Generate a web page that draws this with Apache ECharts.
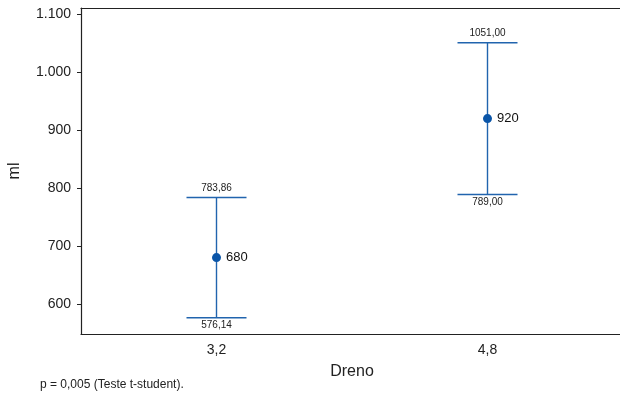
<!DOCTYPE html>
<html>
<head>
<meta charset="utf-8">
<script src="https://cdn.jsdelivr.net/npm/echarts@6/dist/echarts.min.js"></script>
<style>
  html, body { margin: 0; padding: 0; background: #fff; }
  #chart { width: 620px; height: 399px; }
</style>
</head>
<body>
<div id="chart"></div>
<script>
const categories = ["3,2", "4,8"];
const means = [680, 920];
const upper = [783.86, 1051.0];
const lower = [576.14, 789.0];
const yTicks = [600, 700, 800, 900, 1000, 1100];

const FONT = "Liberation Sans";
const BLUE = "#2164ae";
const DOT = "#0a55a8";

// 1100 -> "1.100", 783.86 -> "783,86"
function fmtThousands(v) {
  return String(v).replace(/\B(?=(\d{3})+(?!\d))/g, ".");
}
function fmtDec(v) {
  return v.toFixed(2).replace(".", ",");
}

const barData = categories.map((c, i) => [i, lower[i], upper[i]]);

const dom = document.getElementById("chart");
const myChart = echarts.init(dom, null, { renderer: "canvas" });

const option = {
  animation: false,
  textStyle: { fontFamily: FONT },
  grid: {
    left: 81,
    top: 8,
    width: 542,
    height: 326,
    show: false,
    containLabel: false,
    outerBoundsMode: "none"
  },
  title: {
    text: "p = 0,005 (Teste t-student).",
    left: 40,
    top: 379,
    padding: 0,
    textStyle: { fontFamily: FONT, fontSize: 12, fontWeight: "normal", color: "#222" }
  },
  xAxis: [
    {
      type: "category",
      data: categories,
      boundaryGap: true,
      name: "Dreno",
      nameLocation: "middle",
      nameGap: 30,
      nameTextStyle: { fontFamily: FONT, fontSize: 16, color: "#222" },
      axisLine: { lineStyle: { color: "#222", width: 1.2 } },
      axisTick: { alignWithLabel: true, length: 4, lineStyle: { color: "#222" } },
      axisLabel: { fontFamily: FONT, fontSize: 14, color: "#222", margin: 9 },
      splitLine: { show: false }
    },
    {
      // top frame line only
      type: "category",
      data: categories,
      position: "top",
      axisLine: { lineStyle: { color: "#222", width: 1.2 } },
      axisTick: { show: false },
      axisLabel: { show: false },
      splitLine: { show: false }
    }
  ],
  yAxis: {
    type: "value",
    min: 548,
    max: 1111,
    name: "ml",
    nameLocation: "middle",
    nameGap: 58,
    nameRotate: 90,
    nameTextStyle: { fontFamily: FONT, fontSize: 16, color: "#222" },
    axisLine: { show: true, lineStyle: { color: "#222", width: 1.2 } },
    axisTick: { show: true, length: 4, customValues: yTicks, lineStyle: { color: "#222" } },
    axisLabel: {
      fontFamily: FONT, fontSize: 14, color: "#222", margin: 10,
      customValues: yTicks,
      formatter: v => fmtThousands(v)
    },
    splitLine: { show: false }
  },
  series: [
    {
      type: "custom",
      data: barData,
      z: 2,
      renderItem: function (params, api) {
        const x = api.value(0);
        const lo = api.coord([x, api.value(1)]);
        const hi = api.coord([x, api.value(2)]);
        const half = 30;
        const ls = { stroke: BLUE, lineWidth: 1.4 };
        return {
          type: "group",
          children: [
            { type: "line", shape: { x1: hi[0], y1: hi[1], x2: lo[0], y2: lo[1] }, style: ls },
            { type: "line", shape: { x1: hi[0] - half, y1: hi[1], x2: hi[0] + half, y2: hi[1] }, style: ls },
            { type: "line", shape: { x1: lo[0] - half, y1: lo[1], x2: lo[0] + half, y2: lo[1] }, style: ls },
            {
              type: "text",
              style: {
                x: hi[0], y: hi[1] - 4, text: fmtDec(api.value(2)),
                align: "center", verticalAlign: "bottom",
                fontFamily: FONT, fontSize: 10, fill: "#222"
              }
            },
            {
              type: "text",
              style: {
                x: lo[0], y: lo[1] + 3, text: fmtDec(api.value(1)),
                align: "center", verticalAlign: "top",
                fontFamily: FONT, fontSize: 10, fill: "#222"
              }
            }
          ]
        };
      }
    },
    {
      type: "scatter",
      data: means,
      symbol: "circle",
      symbolSize: 9,
      z: 3,
      itemStyle: { color: DOT, opacity: 1 },
      label: {
        show: true,
        position: "right",
        distance: 5,
        fontFamily: FONT,
        fontSize: 13,
        color: "#111"
      }
    }
  ]
};

myChart.setOption(option);
</script>
</body>
</html>
